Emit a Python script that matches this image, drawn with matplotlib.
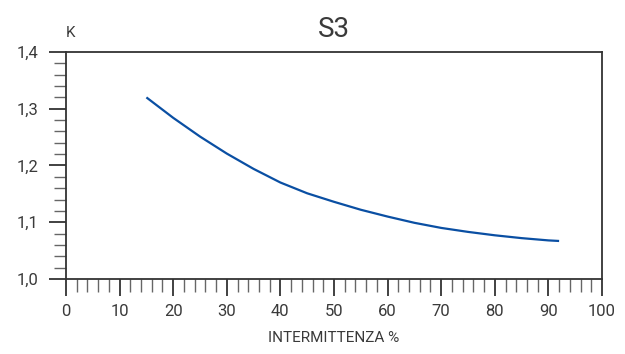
import matplotlib
matplotlib.use("Agg")
from matplotlib import pyplot as plt
from matplotlib.ticker import MultipleLocator, FuncFormatter

# curve
intermittenza = [15, 20, 25, 30, 35, 40, 45, 50, 55, 60, 65, 70, 75, 80, 85, 90, 92]
k_values = [1.320, 1.284, 1.251, 1.221, 1.194, 1.170, 1.151, 1.136, 1.122, 1.110,
            1.099, 1.090, 1.083, 1.077, 1.072, 1.068, 1.067]

title = 'S3'
xlabel = 'INTERMITTENZA %'
ylabel = 'K'

plt.rcParams['font.family'] = ['Roboto', 'DejaVu Sans']
txt = '#3a3a3a'

fig = plt.figure(figsize=(6.25, 3.54), dpi=100)
ax = fig.add_axes([0.1056, 0.2119, 0.8576, 0.6412])

ax.plot(intermittenza, k_values, color='#0a4fa3', lw=1.6, solid_capstyle='butt')

ax.set_xlim(0, 100)
ax.set_ylim(1.0, 1.4)

ax.xaxis.set_major_locator(MultipleLocator(10))
ax.xaxis.set_minor_locator(MultipleLocator(2))
ax.yaxis.set_major_locator(MultipleLocator(0.1))
ax.yaxis.set_minor_locator(MultipleLocator(0.02))
ax.yaxis.set_major_formatter(FuncFormatter(lambda v, p: f'{v:.1f}'.replace('.', ',')))

ax.tick_params(axis='both', which='major', direction='out', length=12, width=1.3,
               color='#333333', labelsize=12, labelcolor=txt)
ax.tick_params(axis='both', which='minor', direction='out', length=9, width=1.0,
               color='#666666')
ax.tick_params(axis='x', which='major', pad=6)
ax.tick_params(axis='y', which='major', pad=8)

for s in ax.spines.values():
    s.set_color('#333333')
    s.set_linewidth(1.3)

ax.set_title(title, fontsize=20, color=txt, pad=11)
ax.set_xlabel(xlabel, fontsize=11, color=txt, labelpad=9)
ax.text(0.0, 1.055, ylabel, transform=ax.transAxes, fontsize=11, color=txt,
        ha='left', va='bottom')

fig.savefig('out.png', dpi=100)
